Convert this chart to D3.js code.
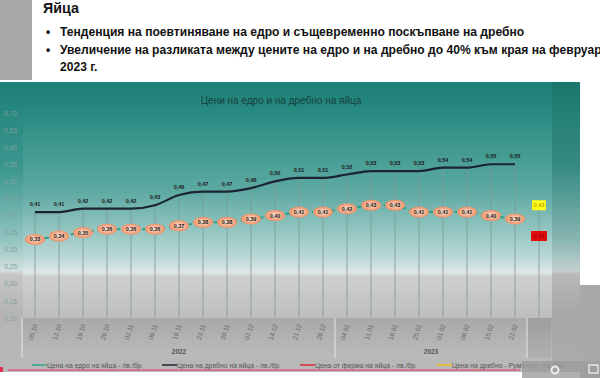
<!DOCTYPE html>
<meta charset="utf-8">
<script src="https://d3js.org/d3.v7.min.js"></script>
<style>
  body { margin: 0; background: #fff; }
  svg { display: block; }
</style>
<div id="chart"></div>
<script>

// data
var dates = ["05.10","12.10","19.10","26.10","02.11","09.11","16.11","23.11","30.11","07.12","14.12",
             "21.12","28.12","04.01","11.01","18.01","25.01","01.02","08.02","15.02","22.02"];
var retail = [0.41,0.41,0.42,0.42,0.42,0.43,0.46,0.47,0.47,0.48,0.50,0.51,0.51,0.52,0.53,0.53,0.53,0.54,0.54,0.55,0.55];
var wholesale = [0.33,0.34,0.35,0.36,0.36,0.36,0.37,0.38,0.38,0.39,0.40,0.41,0.41,0.42,0.43,0.43,0.41,0.41,0.41,0.40,0.39];
var farmPrice = 0.34;      // red box, last column
var romaniaRetail = 0.43;  // yellow box, last column
var yTicks = [0.10,0.15,0.20,0.25,0.30,0.35,0.40,0.45,0.50,0.55,0.60,0.65,0.70];
var years = [{label: "2022", from: "05.10", to: "28.12"}, {label: "2023", from: "04.01", to: "22.02"}];
var legendNames = ["Цена на едро на яйца - лв./бр", "Цена на дребно на яйца - лв./бр.",
                   "Цена от ферма на яйца - лв./бр.", "Цена на дребно - Румъния - лв./бр."];
var legendColors = ["#2fa58c", "#1b2430", "#d8283a", "#f2c21b"];

var cats = dates.concat(["RO"]);
var comma = function(v) { return d3.format(".2f")(v).replace(".", ","); };

var svg = d3.select("#chart").append("svg")
  .attr("width", 600)
  .attr("height", 378);

var defs = svg.append("defs");

function vgrad(id, y1, y2, stops) {
  var g = defs.append("linearGradient").attr("id", id)
    .attr("gradientUnits", "userSpaceOnUse")
    .attr("x1", 0).attr("x2", 0).attr("y1", y1).attr("y2", y2);
  stops.forEach(function(s) {
    g.append("stop").attr("offset", s[0]).attr("stop-color", s[1]);
  });
}

vgrad("outer", 82, 372, [[0, "#1d8076"], [0.3, "#3c978f"], [0.55, "#95c5c1"], [0.65, "#d2e0df"],
                         [0.665, "#c6c6c6"], [0.8, "#b4b4b4"], [1, "#b9b9b9"]]);
vgrad("inner", 108, 318, [[0, "#25897f"], [0.4, "#5eaaa3"], [0.72, "#bcd9d7"], [0.785, "#e0e8e8"],
                          [0.8, "#d0d0d0"], [1, "#bdbdbd"]]);
vgrad("axisband", 318, 360, [[0, "#a9a9a9"], [1, "#bcbcbc"]]);

var rg = defs.append("radialGradient").attr("id", "egg");
rg.append("stop").attr("offset", 0).attr("stop-color", "#fde6d8");
rg.append("stop").attr("offset", 0.55).attr("stop-color", "#f7b999");
rg.append("stop").attr("offset", 1).attr("stop-color", "#ee8d62");

// slide header (narrow font look via horizontal squeeze)
svg.append("rect").attr("x", 0).attr("y", 0).attr("width", 32).attr("height", 80).attr("fill", "#a8a8a8");

svg.append("text").attr("transform", "translate(43,13) scale(0.95,1)")
  .style("font", "bold 15px 'Liberation Sans', sans-serif")
  .style("fill", "#111").text("Яйца");

var bullets = [
  {y: 36, b: true, t: "Тенденция на поевтиняване на едро и същевременно поскъпване на дребно"},
  {y: 54, b: true, t: "Увеличение на разликата между цените на едро и на дребно до 40% към края на февруари"},
  {y: 71, b: false, t: "2023 г."}
];
bullets.forEach(function(d) {
  if (d.b) svg.append("text").attr("x", 46).attr("y", d.y)
    .style("font", "bold 12px 'Liberation Sans', sans-serif").style("fill", "#111").text("•");
  svg.append("text").attr("transform", "translate(60," + d.y + ") scale(0.93,1)")
    .style("font", "bold 13px 'Liberation Sans', sans-serif")
    .style("fill", "#111").text(d.t);
});

// chart panel
svg.append("rect").attr("x", 0).attr("y", 82).attr("width", 580).attr("height", 290).attr("fill", "url(#outer)");
svg.append("rect").attr("x", 23).attr("y", 108).attr("width", 529).attr("height", 210).attr("fill", "url(#inner)");
svg.append("rect").attr("x", 23).attr("y", 318).attr("width", 529).attr("height", 40).attr("fill", "url(#axisband)");
svg.append("rect").attr("x", 552).attr("y", 82).attr("width", 28).attr("height", 290)
  .attr("fill", "#000").attr("opacity", 0.07);

var x = d3.scaleBand().domain(cats).range([23, 551]);
var y = d3.scaleLinear().domain([0.10, 0.70]).range([318, 113]);
var cx = function(c) { return x(c) + x.bandwidth() / 2; };

svg.append("rect").attr("x", x("RO")).attr("y", 318).attr("width", x.bandwidth()).attr("height", 40)
  .attr("fill", "#000").attr("opacity", 0.06);

svg.append("text").attr("x", 281).attr("y", 104).attr("text-anchor", "middle")
  .style("font", "10px 'Liberation Sans', sans-serif").style("fill", "#17403c")
  .text("Цени на едро и на дребно на яйца");

// y axis
var yAxis = svg.append("g").attr("transform", "translate(17,0)")
  .call(d3.axisLeft(y).tickValues(yTicks).tickFormat(comma).tickSize(0).tickPadding(0));
yAxis.select(".domain").remove();
yAxis.selectAll("text").style("font", "6.5px 'Liberation Sans', sans-serif").style("fill", "#80a09d");

// drop lines
svg.append("g").selectAll("line").data(dates).enter().append("line")
  .attr("x1", function(d) { return cx(d); }).attr("x2", function(d) { return cx(d); })
  .attr("y1", function(d, i) { return y(retail[i]); }).attr("y2", 318)
  .attr("stroke", "#7e9896").attr("stroke-width", 1).attr("opacity", 0.8);
svg.append("line").attr("x1", cx("RO")).attr("x2", cx("RO"))
  .attr("y1", y(romaniaRetail)).attr("y2", 318)
  .attr("stroke", "#7e9896").attr("stroke-width", 1).attr("opacity", 0.8);

// x axis
var xAxis = svg.append("g").attr("transform", "translate(0,318)")
  .call(d3.axisBottom(x).tickSize(0).tickFormat(function(d) { return d == "RO" ? "" : d; }));
xAxis.select(".domain").remove();
xAxis.selectAll("text")
  .attr("y", 0).attr("dy", "0.35em")
  .attr("transform", "translate(-2,14) rotate(-72)")
  .attr("text-anchor", "middle")
  .style("font", "6.5px 'Liberation Sans', sans-serif").style("fill", "#666");

// year groups
var seps = [x.range()[0] - 1, (cx("28.12") + cx("04.01")) / 2, x("RO")];
svg.append("g").selectAll("line").data(seps).enter().append("line")
  .attr("x1", function(d) { return d; }).attr("x2", function(d) { return d; })
  .attr("y1", 318).attr("y2", 358).attr("stroke", "#e6e6e6").attr("stroke-width", 1);
svg.append("g").selectAll("text").data(years).enter().append("text")
  .attr("x", function(d) { return (cx(d.from) + cx(d.to)) / 2; }).attr("y", 354)
  .attr("text-anchor", "middle")
  .style("font", "bold 6.5px 'Liberation Sans', sans-serif").style("fill", "#555")
  .text(function(d) { return d.label; });

// retail line
var line = d3.line().curve(d3.curveMonotoneX)
  .x(function(d, i) { return cx(dates[i]); }).y(function(d) { return y(d); });
svg.append("path").attr("d", line(retail))
  .attr("fill", "none").attr("stroke", "#1b2430").attr("stroke-width", 2.2);
svg.append("g").selectAll("text").data(retail).enter().append("text")
  .attr("x", function(d, i) { return cx(dates[i]); }).attr("y", function(d) { return y(d) - 6; })
  .attr("text-anchor", "middle")
  .style("font", "bold 5.5px 'Liberation Sans', sans-serif").style("fill", "#1a1a1a")
  .text(comma);

// wholesale line
var line2 = d3.line()
  .x(function(d, i) { return cx(dates[i]); }).y(function(d) { return y(d); });
svg.append("path").attr("d", line2(wholesale))
  .attr("fill", "none").attr("stroke", "#2aa08c").attr("stroke-width", 2).attr("stroke-dasharray", "5,4");
var eggs = svg.append("g").selectAll("g").data(wholesale).enter().append("g")
  .attr("transform", function(d, i) { return "translate(" + cx(dates[i]) + "," + y(d) + ")"; });
eggs.append("ellipse").attr("rx", 10).attr("ry", 5.5).attr("fill", "url(#egg)");
eggs.append("text").attr("y", 2).attr("text-anchor", "middle")
  .style("font", "bold 5.5px 'Liberation Sans', sans-serif").style("fill", "#222")
  .text(comma);

// single points in the last column
var boxes = [{v: romaniaRetail, fill: "#ffff1a", txt: "#9a8a00", w: 14}, {v: farmPrice, fill: "#e10e0e", txt: "#8a0000", w: 16}];
var bx = svg.append("g").selectAll("g").data(boxes).enter().append("g")
  .attr("transform", function(d) { return "translate(" + cx("RO") + "," + y(d.v) + ")"; });
bx.append("rect").attr("x", function(d) { return -d.w / 2; }).attr("y", -5)
  .attr("width", function(d) { return d.w; }).attr("height", 10)
  .attr("fill", function(d) { return d.fill; });
bx.append("text").attr("y", 2).attr("text-anchor", "middle")
  .style("font", "5.5px 'Liberation Sans', sans-serif").style("fill", function(d) { return d.txt; })
  .text(function(d) { return comma(d.v); });

// legend
var legX = [32, 162, 300, 437];
var leg = svg.append("g").selectAll("g").data(legendNames).enter().append("g")
  .attr("transform", function(d, i) { return "translate(" + legX[i] + ",365)"; });
leg.append("line").attr("x1", 0).attr("x2", 15).attr("y1", 0).attr("y2", 0)
  .attr("stroke", function(d, i) { return legendColors[i]; }).attr("stroke-width", 1.5);
leg.append("text").attr("x", 15).attr("y", 2.5)
  .style("font", "6.8px 'Liberation Sans', sans-serif").style("fill", "#555")
  .text(function(d) { return d; });

// video player overlay
svg.append("rect").attr("x", 580).attr("y", 285).attr("width", 20).attr("height", 93).attr("fill", "#a9a9a9");
svg.append("rect").attr("x", 522).attr("y", 361).attr("width", 78).attr("height", 17).attr("fill", "#9c9c9c").attr("opacity", 0.8);
svg.append("line").attr("x1", 8).attr("x2", 520).attr("y1", 370).attr("y2", 370)
  .attr("stroke", "#de5f80").attr("stroke-width", 1.5);
svg.append("rect").attr("x", 0).attr("y", 367).attr("width", 3).attr("height", 5).attr("fill", "#e0305a");
svg.append("circle").attr("cx", 555).attr("cy", 370).attr("r", 3.5).attr("fill", "none").attr("stroke", "#eee").attr("stroke-width", 2);
svg.append("rect").attr("x", 589).attr("y", 365).attr("width", 9).attr("height", 8).attr("fill", "none").attr("stroke", "#eee").attr("stroke-width", 1.3);

</script>
